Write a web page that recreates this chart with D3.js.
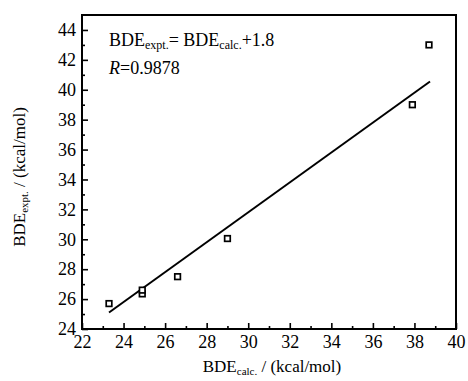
<!DOCTYPE html>
<html>
<head>
<meta charset="utf-8">
<script src="https://cdn.jsdelivr.net/npm/d3@7"></script>
<style>
  body { margin: 0; background: #fff; }
  svg text { font-family: "Liberation Serif", "Times New Roman", serif; fill: #000; }
</style>
</head>
<body>
<div id="chart"></div>
<script>
// data
var calcValues = [23.3, 24.9, 24.9, 26.6, 29.0, 37.9, 38.7];
var exptValues = [25.7, 26.35, 26.6, 27.5, 30.05, 39.0, 43.0];
var xTicks = [22, 24, 26, 28, 30, 32, 34, 36, 38, 40];
var yTicks = [24, 26, 28, 30, 32, 34, 36, 38, 40, 42, 44];
var xMinor = [23, 25, 27, 29, 31, 33, 35, 37, 39];
var yMinor = [25, 27, 29, 31, 33, 35, 37, 39, 41, 43];
// fitted line: BDEexpt = BDEcalc + 1.8
var fitSlope = 1.0, fitIntercept = 1.8;
var fitRange = [23.3, 38.75];

var margin = { top: 15, right: 12, bottom: 52, left: 82 },
    width = 468 - margin.left - margin.right,
    height = 381 - margin.top - margin.bottom;

var svg = d3.select("#chart")
    .append("svg")
    .attr("width", 468)
    .attr("height", 381);

var g = svg.append("g")
    .attr("transform", "translate(" + margin.left + "," + margin.top + ")");

var x = d3.scaleLinear().domain([22, 40]).range([0, width]);
var y = d3.scaleLinear().domain([24, 45]).range([height, 0]);

// x axis, ticks pointing inward
g.append("g")
    .attr("class", "axis")
    .attr("transform", "translate(0," + height + ")")
    .call(d3.axisBottom(x).tickValues(xTicks).tickSize(-6).tickPadding(6).tickFormat(d3.format("d")));
g.append("g")
    .attr("class", "axis")
    .attr("transform", "translate(0," + height + ")")
    .call(d3.axisBottom(x).tickValues(xMinor).tickSize(-3).tickFormat(""));

// y axis
g.append("g")
    .attr("class", "axis")
    .call(d3.axisLeft(y).tickValues(yTicks).tickSize(-6).tickPadding(6).tickFormat(d3.format("d")));
g.append("g")
    .attr("class", "axis")
    .call(d3.axisLeft(y).tickValues(yMinor).tickSize(-3).tickFormat(""));

g.selectAll(".axis")
    .attr("font-family", "Liberation Serif")
    .attr("font-size", 18);
g.selectAll(".domain").remove();
g.selectAll(".tick line").attr("stroke", "#000").attr("stroke-width", 1.6);
g.selectAll(".tick text").attr("fill", "#000");

// frame
g.append("rect")
    .attr("x", 0)
    .attr("y", 0)
    .attr("width", width)
    .attr("height", height)
    .attr("fill", "none")
    .attr("stroke", "#000")
    .attr("stroke-width", 2);

// fit line
g.append("line")
    .attr("x1", x(fitRange[0]))
    .attr("y1", y(fitSlope * fitRange[0] + fitIntercept))
    .attr("x2", x(fitRange[1]))
    .attr("y2", y(fitSlope * fitRange[1] + fitIntercept))
    .attr("stroke", "#000")
    .attr("stroke-width", 2);

// hollow square markers
var points = calcValues.map(function(d, i) { return { calc: d, expt: exptValues[i] }; });
g.selectAll(".pt")
    .data(points)
    .enter().append("rect")
    .attr("class", "pt")
    .attr("x", function(d) { return x(d.calc) - 2.8; })
    .attr("y", function(d) { return y(d.expt) - 2.8; })
    .attr("width", 5.6)
    .attr("height", 5.6)
    .attr("fill", "#fff")
    .attr("stroke", "#000")
    .attr("stroke-width", 1.7);

// equation text
var eq = g.append("text")
    .attr("x", 27)
    .attr("y", 31)
    .style("font-size", "18px");
eq.append("tspan").text("BDE");
eq.append("tspan").attr("dy", 3).style("font-size", "12px").text("expt.");
eq.append("tspan").attr("dy", -3).text("= BDE");
eq.append("tspan").attr("dy", 3).style("font-size", "12px").text("calc.");
eq.append("tspan").attr("dy", -3).text("+1.8");

var rText = g.append("text")
    .attr("x", 27)
    .attr("y", 59)
    .style("font-size", "18px");
rText.append("tspan").style("font-style", "italic").text("R");
rText.append("tspan").text("=0.9878");

// axis titles
var xt = svg.append("text")
    .attr("x", margin.left + width / 2 + 3)
    .attr("y", 372)
    .attr("text-anchor", "middle")
    .style("font-size", "17px");
xt.append("tspan").text("BDE");
xt.append("tspan").attr("dy", 3).style("font-size", "11px").text("calc.");
xt.append("tspan").attr("dy", -3).text(" / (kcal/mol)");

var yt = svg.append("text")
    .attr("transform", "translate(25," + (margin.top + height / 2 + 5) + ") rotate(-90)")
    .attr("text-anchor", "middle")
    .style("font-size", "17px");
yt.append("tspan").text("BDE");
yt.append("tspan").attr("dy", 3).style("font-size", "11px").text("expt.");
yt.append("tspan").attr("dy", -3).text(" / (kcal/mol)");
</script>
</body>
</html>
